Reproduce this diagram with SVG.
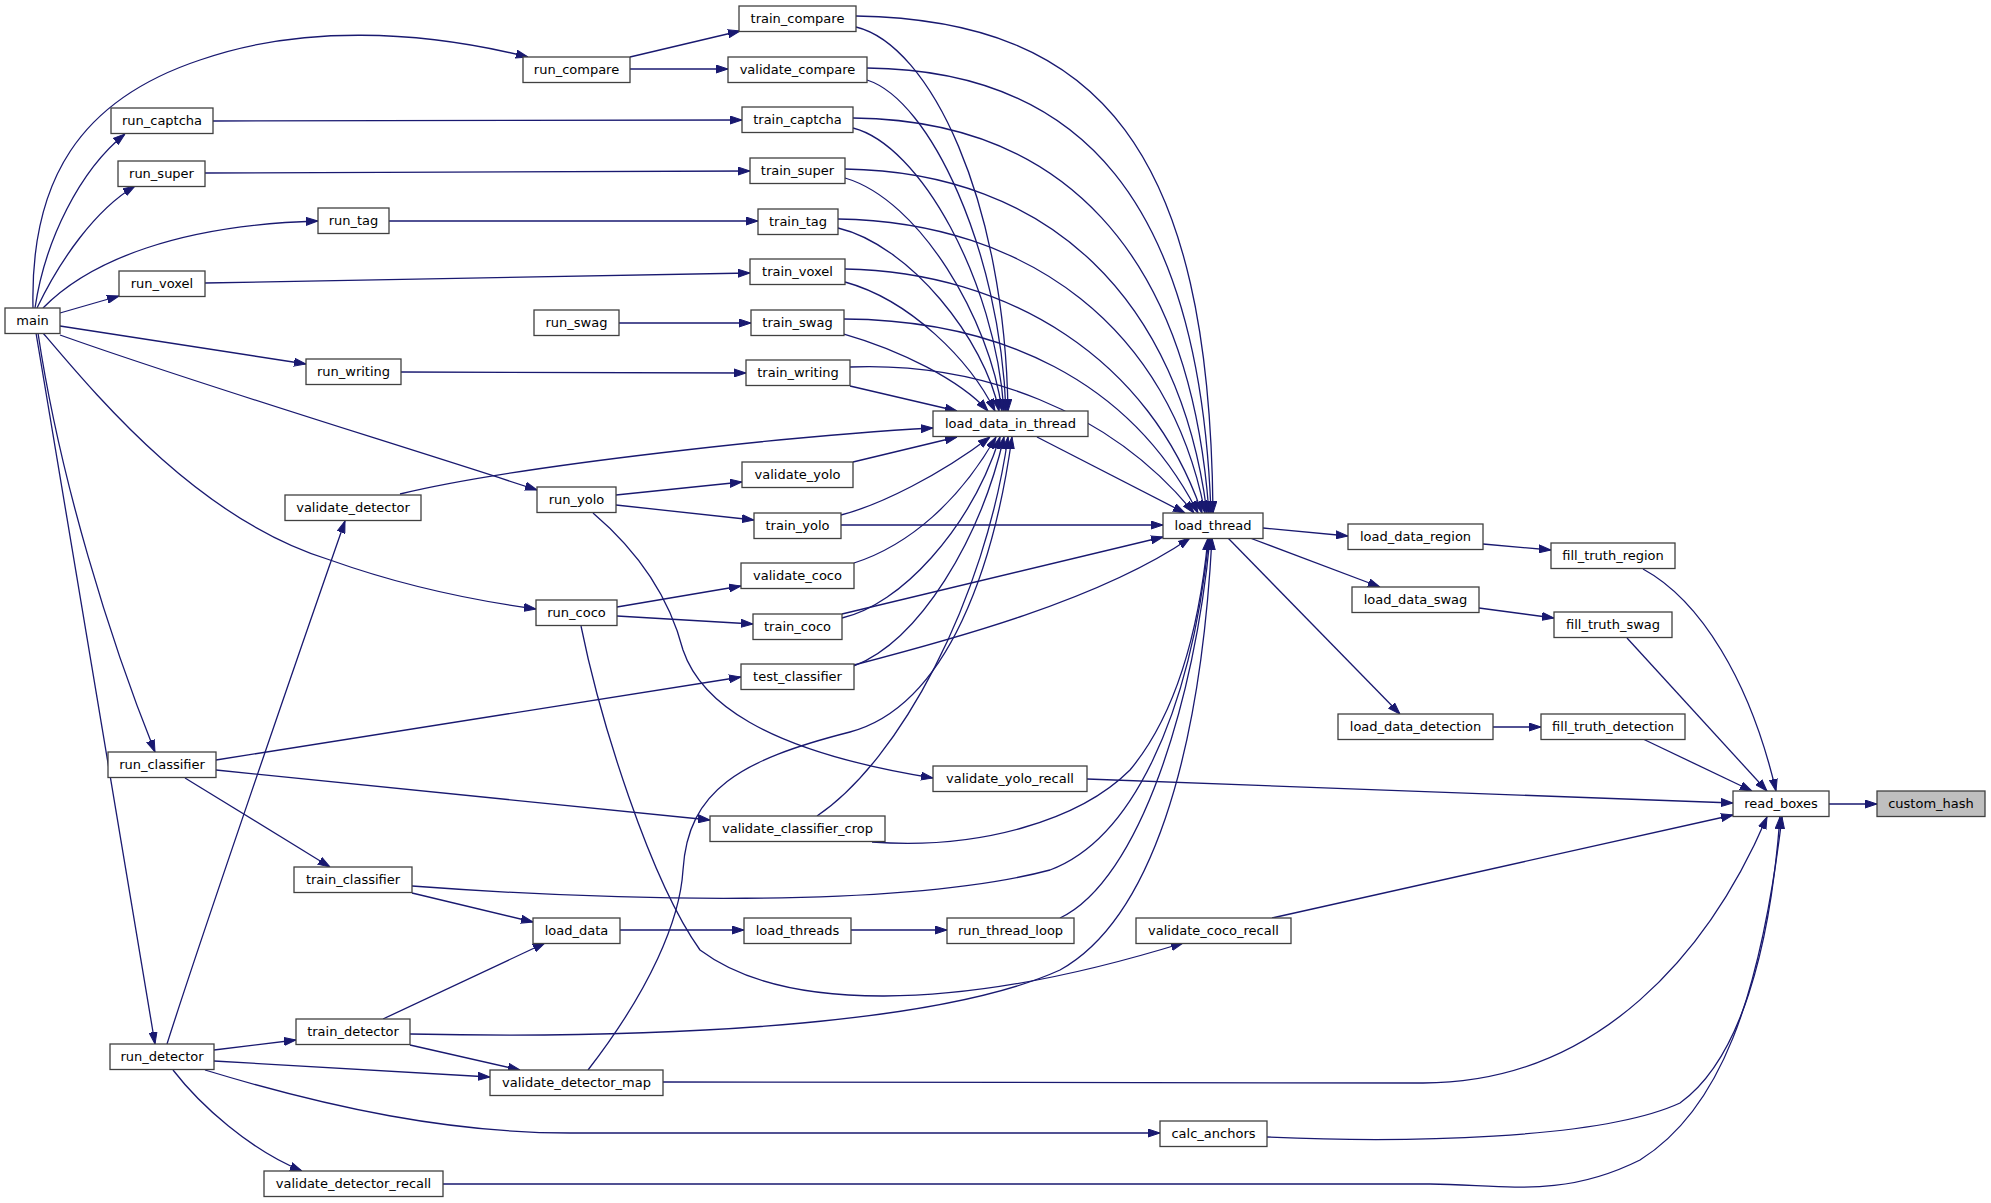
<svg xmlns="http://www.w3.org/2000/svg" width="1991" height="1203" viewBox="0 0 1991 1203">
<style>
.e{fill:none;stroke:#191970;stroke-width:1.3;marker-end:url(#a)}
.n rect{fill:#ffffff;stroke:#404040;stroke-width:1.3}
.n text{font-family:"DejaVu Sans","Liberation Sans",sans-serif;font-size:13px;fill:#000000;text-anchor:middle}
.g rect{fill:#bfbfbf}
</style>
<defs>
<marker id="a" viewBox="0 0 12 9" refX="12" refY="4.5" markerWidth="12" markerHeight="9" markerUnits="userSpaceOnUse" orient="auto">
<path d="M0,0.5 L12,4.5 L0,8.5 z" fill="#191970" stroke="#191970" stroke-width="1"/>
</marker>
</defs>
<rect width="1991" height="1203" fill="#ffffff"/>
<g id="edges">
<path class="e" d="M33,308 C30,180 80,100 200,60 C300,25 420,30 528,57"/>
<path class="e" d="M35,308 C45,240 80,170 125,134"/>
<path class="e" d="M37,308 C60,260 95,210 135,186"/>
<path class="e" d="M43,308 C90,260 180,225 318,221"/>
<path class="e" d="M60,313 L119,296"/>
<path class="e" d="M60,326 L306,364"/>
<path class="e" d="M60,335 C200,385 400,445 537,490"/>
<path class="e" d="M43,333 C100,400 200,520 330,560 C400,585 470,600 536,609"/>
<path class="e" d="M38,333 C60,480 110,640 155,752"/>
<path class="e" d="M36,333 L155,1044"/>
<path class="e" d="M630,57 L740,31"/>
<path class="e" d="M630,69 L728,69"/>
<path class="e" d="M213,121 L742,120"/>
<path class="e" d="M205,173 L750,171"/>
<path class="e" d="M389,221 L758,221"/>
<path class="e" d="M205,283 L750,273"/>
<path class="e" d="M619,323 L751,323"/>
<path class="e" d="M401,372 L746,373"/>
<path class="e" d="M616,495 L742,482"/>
<path class="e" d="M616,505 L754,520"/>
<path class="e" d="M593,513 C640,553 670,600 683,650 C700,700 760,750 933,778"/>
<path class="e" d="M617,607 L741,586"/>
<path class="e" d="M617,616 L753,624"/>
<path class="e" d="M581,626 C600,720 650,880 700,950 C780,1010 950,1015 1183,943"/>
<path class="e" d="M216,760 L741,677"/>
<path class="e" d="M216,770 L710,820"/>
<path class="e" d="M185,778 L330,867"/>
<path class="e" d="M167,1044 C200,940 300,650 345,521"/>
<path class="e" d="M214,1050 L296,1040"/>
<path class="e" d="M214,1061 L490,1077"/>
<path class="e" d="M205,1070 C330,1108 450,1133 570,1133 L1160,1133"/>
<path class="e" d="M173,1070 C200,1105 250,1150 302,1171"/>
<path class="e" d="M412,893 L533,922"/>
<path class="e" d="M412,886 C600,900 900,910 1050,870 C1130,840 1190,720 1209,538"/>
<path class="e" d="M383,1019 L545,943"/>
<path class="e" d="M410,1034 C700,1040 950,1020 1060,970 C1150,920 1200,760 1212,538"/>
<path class="e" d="M410,1045 L520,1070"/>
<path class="e" d="M620,930 L744,930"/>
<path class="e" d="M851,930 L947,930"/>
<path class="e" d="M1060,918 C1140,880 1195,700 1210,538"/>
<path class="e" d="M856,27 C930,45 1005,200 1008,411"/>
<path class="e" d="M867,80 C930,100 1000,250 1006,411"/>
<path class="e" d="M853,128 C920,145 995,280 1004,411"/>
<path class="e" d="M845,178 C920,200 990,320 1002,411"/>
<path class="e" d="M838,228 C910,245 985,340 999,411"/>
<path class="e" d="M845,282 C910,300 970,360 995,411"/>
<path class="e" d="M844,334 C900,350 960,380 988,411"/>
<path class="e" d="M850,386 L957,411"/>
<path class="e" d="M856,16 C1100,20 1210,150 1213,513"/>
<path class="e" d="M867,68 C1080,70 1200,200 1211,513"/>
<path class="e" d="M853,118 C1060,120 1190,250 1209,513"/>
<path class="e" d="M845,169 C1050,172 1180,300 1207,513"/>
<path class="e" d="M838,219 C1030,222 1170,330 1205,513"/>
<path class="e" d="M845,269 C1010,272 1150,360 1202,513"/>
<path class="e" d="M844,319 C1000,320 1130,380 1198,513"/>
<path class="e" d="M850,367 C980,362 1110,410 1194,513"/>
<path class="e" d="M400,494 C520,465 800,435 933,428"/>
<path class="e" d="M853,462 L957,437"/>
<path class="e" d="M841,515 C880,505 940,475 990,437"/>
<path class="e" d="M854,563 C910,545 960,500 996,437"/>
<path class="e" d="M842,618 C900,605 970,530 1000,437"/>
<path class="e" d="M854,666 C920,640 980,540 1004,437"/>
<path class="e" d="M817,816 C900,760 985,600 1008,437"/>
<path class="e" d="M588,1070 C650,990 680,920 683,870 C688,790 740,760 850,732 C950,705 995,560 1012,437"/>
<path class="e" d="M1037,437 L1185,513"/>
<path class="e" d="M841,525 L1163,525"/>
<path class="e" d="M842,614 L1163,537"/>
<path class="e" d="M854,665 C950,640 1100,600 1190,538"/>
<path class="e" d="M872,842 C980,850 1080,820 1130,770 C1180,710 1200,620 1208,538"/>
<path class="e" d="M1263,528 L1348,536"/>
<path class="e" d="M1250,538 L1380,587"/>
<path class="e" d="M1228,538 L1400,714"/>
<path class="e" d="M1483,544 L1551,550"/>
<path class="e" d="M1479,608 L1554,618"/>
<path class="e" d="M1493,727 L1541,727"/>
<path class="e" d="M1643,569 C1700,600 1750,680 1776,791"/>
<path class="e" d="M1627,638 L1767,791"/>
<path class="e" d="M1643,739 L1752,791"/>
<path class="e" d="M1087,779 L1733,803"/>
<path class="e" d="M1272,918 L1733,815"/>
<path class="e" d="M663,1082 L1423,1083 C1600,1083 1710,950 1767,817"/>
<path class="e" d="M1267,1137 C1400,1143 1600,1140 1680,1103 C1740,1060 1770,950 1780,817"/>
<path class="e" d="M443,1184 L1430,1184 C1500,1184 1560,1200 1640,1160 C1720,1110 1760,1000 1782,817"/>
<path class="e" d="M1829,804 L1877,804"/>
</g>
<g id="node-main" class="n"><rect x="5" y="308" width="55" height="25.5"/><text x="32.5" y="325">main</text></g>
<g id="node-run_compare" class="n"><rect x="523" y="57" width="107" height="25.5"/><text x="576.5" y="74">run_compare</text></g>
<g id="node-run_captcha" class="n"><rect x="111" y="108" width="102" height="25.5"/><text x="162" y="125">run_captcha</text></g>
<g id="node-run_super" class="n"><rect x="118" y="161" width="87" height="25.5"/><text x="161.5" y="178">run_super</text></g>
<g id="node-run_tag" class="n"><rect x="318" y="208" width="71" height="25.5"/><text x="353.5" y="225">run_tag</text></g>
<g id="node-run_voxel" class="n"><rect x="119" y="271" width="86" height="25.5"/><text x="162" y="288">run_voxel</text></g>
<g id="node-run_writing" class="n"><rect x="306" y="359" width="95" height="25.5"/><text x="353.5" y="376">run_writing</text></g>
<g id="node-run_yolo" class="n"><rect x="537" y="487" width="79" height="25.5"/><text x="576.5" y="504">run_yolo</text></g>
<g id="node-run_coco" class="n"><rect x="536" y="600" width="81" height="25.5"/><text x="576.5" y="617">run_coco</text></g>
<g id="node-run_classifier" class="n"><rect x="108" y="752" width="108" height="25.5"/><text x="162" y="769">run_classifier</text></g>
<g id="node-run_detector" class="n"><rect x="110" y="1044" width="104" height="25.5"/><text x="162" y="1061">run_detector</text></g>
<g id="node-validate_detector" class="n"><rect x="285" y="495" width="136" height="25.5"/><text x="353" y="512">validate_detector</text></g>
<g id="node-train_classifier" class="n"><rect x="294" y="867" width="118" height="25.5"/><text x="353" y="884">train_classifier</text></g>
<g id="node-train_detector" class="n"><rect x="296" y="1019" width="114" height="25.5"/><text x="353" y="1036">train_detector</text></g>
<g id="node-validate_detector_recall" class="n"><rect x="264" y="1171" width="179" height="25.5"/><text x="353.5" y="1188">validate_detector_recall</text></g>
<g id="node-run_swag" class="n"><rect x="534" y="310" width="85" height="25.5"/><text x="576.5" y="327">run_swag</text></g>
<g id="node-train_compare" class="n"><rect x="739" y="6" width="117" height="25.5"/><text x="797.5" y="23">train_compare</text></g>
<g id="node-validate_compare" class="n"><rect x="728" y="57" width="139" height="25.5"/><text x="797.5" y="74">validate_compare</text></g>
<g id="node-train_captcha" class="n"><rect x="742" y="107" width="111" height="25.5"/><text x="797.5" y="124">train_captcha</text></g>
<g id="node-train_super" class="n"><rect x="750" y="158" width="95" height="25.5"/><text x="797.5" y="175">train_super</text></g>
<g id="node-train_tag" class="n"><rect x="758" y="209" width="80" height="25.5"/><text x="798" y="226">train_tag</text></g>
<g id="node-train_voxel" class="n"><rect x="750" y="259" width="95" height="25.5"/><text x="797.5" y="276">train_voxel</text></g>
<g id="node-train_swag" class="n"><rect x="751" y="310" width="93" height="25.5"/><text x="797.5" y="327">train_swag</text></g>
<g id="node-train_writing" class="n"><rect x="746" y="360" width="104" height="25.5"/><text x="798" y="377">train_writing</text></g>
<g id="node-load_data_in_thread" class="n"><rect x="933" y="411" width="155" height="25.5"/><text x="1010.5" y="428">load_data_in_thread</text></g>
<g id="node-validate_yolo" class="n"><rect x="742" y="462" width="111" height="25.5"/><text x="797.5" y="479">validate_yolo</text></g>
<g id="node-train_yolo" class="n"><rect x="754" y="513" width="87" height="25.5"/><text x="797.5" y="530">train_yolo</text></g>
<g id="node-validate_coco" class="n"><rect x="741" y="563" width="113" height="25.5"/><text x="797.5" y="580">validate_coco</text></g>
<g id="node-train_coco" class="n"><rect x="753" y="614" width="89" height="25.5"/><text x="797.5" y="631">train_coco</text></g>
<g id="node-test_classifier" class="n"><rect x="741" y="664" width="113" height="25.5"/><text x="797.5" y="681">test_classifier</text></g>
<g id="node-validate_yolo_recall" class="n"><rect x="933" y="766" width="154" height="25.5"/><text x="1010" y="783">validate_yolo_recall</text></g>
<g id="node-validate_classifier_crop" class="n"><rect x="710" y="816" width="175" height="25.5"/><text x="797.5" y="833">validate_classifier_crop</text></g>
<g id="node-load_data" class="n"><rect x="533" y="918" width="87" height="25.5"/><text x="576.5" y="935">load_data</text></g>
<g id="node-load_threads" class="n"><rect x="744" y="918" width="107" height="25.5"/><text x="797.5" y="935">load_threads</text></g>
<g id="node-run_thread_loop" class="n"><rect x="947" y="918" width="127" height="25.5"/><text x="1010.5" y="935">run_thread_loop</text></g>
<g id="node-validate_detector_map" class="n"><rect x="490" y="1070" width="173" height="25.5"/><text x="576.5" y="1087">validate_detector_map</text></g>
<g id="node-validate_coco_recall" class="n"><rect x="1136" y="918" width="155" height="25.5"/><text x="1213.5" y="935">validate_coco_recall</text></g>
<g id="node-calc_anchors" class="n"><rect x="1160" y="1121" width="107" height="25.5"/><text x="1213.5" y="1138">calc_anchors</text></g>
<g id="node-load_thread" class="n"><rect x="1163" y="513" width="100" height="25.5"/><text x="1213" y="530">load_thread</text></g>
<g id="node-load_data_region" class="n"><rect x="1348" y="524" width="135" height="25.5"/><text x="1415.5" y="541">load_data_region</text></g>
<g id="node-load_data_swag" class="n"><rect x="1352" y="587" width="127" height="25.5"/><text x="1415.5" y="604">load_data_swag</text></g>
<g id="node-load_data_detection" class="n"><rect x="1338" y="714" width="155" height="25.5"/><text x="1415.5" y="731">load_data_detection</text></g>
<g id="node-fill_truth_region" class="n"><rect x="1551" y="543" width="124" height="25.5"/><text x="1613" y="560">fill_truth_region</text></g>
<g id="node-fill_truth_swag" class="n"><rect x="1554" y="612" width="118" height="25.5"/><text x="1613" y="629">fill_truth_swag</text></g>
<g id="node-fill_truth_detection" class="n"><rect x="1541" y="714" width="144" height="25.5"/><text x="1613" y="731">fill_truth_detection</text></g>
<g id="node-read_boxes" class="n"><rect x="1733" y="791" width="96" height="25.5"/><text x="1781" y="808">read_boxes</text></g>
<g id="node-custom_hash" class="n g"><rect x="1877" y="791" width="108" height="25.5"/><text x="1931" y="808">custom_hash</text></g>
</svg>
